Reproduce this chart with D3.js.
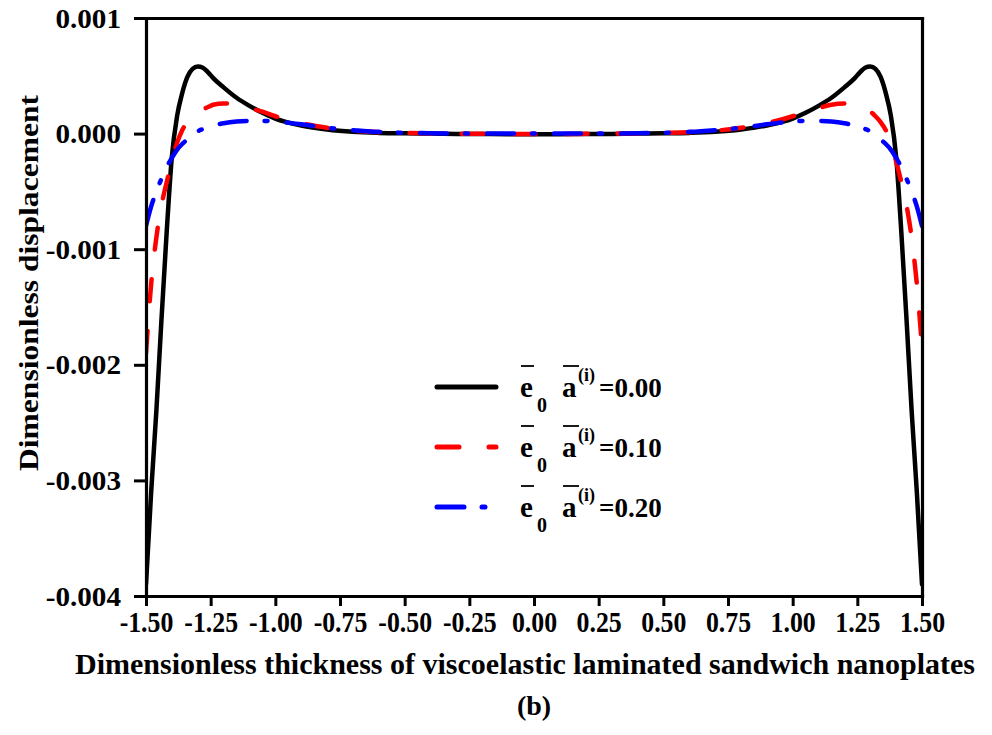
<!DOCTYPE html>
<html>
<head>
<meta charset="utf-8">
<script src="https://cdn.jsdelivr.net/npm/d3@7"></script>
<style>
  html, body { margin: 0; padding: 0; background: #fff; }
  svg { display: block; }
  text { font-family: "Liberation Serif", "Times New Roman", serif; font-weight: bold; fill: #000; }
</style>
</head>
<body>
<svg id="chart" width="992" height="735"></svg>
<script>
// ---- data ----
const thickness = [-1.50,-1.48,-1.46,-1.44,-1.42,-1.40,-1.38,-1.36,-1.34,-1.32,-1.30,-1.28,-1.26,-1.24,-1.20,-1.15,-1.10,-1.05,-1.00,-0.90,-0.80,-0.70,-0.60,-0.50,-0.40,-0.30,-0.20,-0.10,0.00,
                   0.10,0.20,0.30,0.40,0.50,0.60,0.70,0.80,0.90,1.00,1.05,1.10,1.15,1.20,1.24,1.26,1.28,1.30,1.32,1.34,1.36,1.38,1.40,1.42,1.44,1.46,1.48,1.50];

const disp000 = [-0.00390,-0.00310,-0.00240,-0.00160,-0.00085,-0.00020,0.00015,0.00035,0.00049,0.00056,0.00058,0.00057,0.00053,0.00048,0.00040,0.00031,0.00024,0.00018,0.00013,0.00007,0.000035,0.000015,0.000006,0.000002,0.0,-0.000003,-0.000004,-0.000005,-0.000005,
                 -0.000005,-0.000004,-0.000003,0.0,0.000002,0.000006,0.000015,0.000035,0.00007,0.00013,0.00018,0.00024,0.00031,0.00040,0.00048,0.00053,0.00057,0.00058,0.00056,0.00049,0.00035,0.00015,-0.00020,-0.00085,-0.00160,-0.00240,-0.00310,-0.00390];

const disp010 = [-0.00190,-0.00130,-0.00090,-0.00062,-0.00042,-0.00024,-0.00008,0.00003,0.00010,0.00015,0.00019,0.00021,0.00023,0.00025,0.00026,0.00025,0.00022,0.00019,0.00015,0.00009,0.00005,0.000025,0.000012,0.000005,0.000002,0.0,-0.000002,-0.000003,-0.000003,
                 -0.000003,-0.000002,0.0,0.000002,0.000005,0.000012,0.000025,0.00005,0.00009,0.00015,0.00019,0.00022,0.00025,0.00026,0.00025,0.00023,0.00021,0.00019,0.00015,0.00010,0.00003,-0.00008,-0.00024,-0.00042,-0.00062,-0.00090,-0.00130,-0.00185];

const disp020 = [-0.00080,-0.00063,-0.00050,-0.00039,-0.00029,-0.00021,-0.00014,-0.00009,-0.00005,-0.00001,0.00002,0.00004,0.00006,0.00007,0.00009,0.000105,0.00011,0.00011,0.000105,0.00008,0.00005,0.00003,0.000015,0.000007,0.000003,0.000001,0.0,0.0,0.0,
                 0.0,0.0,0.000001,0.000003,0.000007,0.000015,0.00003,0.00005,0.00008,0.000105,0.00011,0.00011,0.000105,0.00009,0.00007,0.00006,0.00004,0.00002,-0.00001,-0.00005,-0.00009,-0.00014,-0.00021,-0.00029,-0.00039,-0.00050,-0.00063,-0.00080];

const seriesNames = ["0.00", "0.10", "0.20"];
const seriesColors = ["#000000", "#ff0000", "#0000ff"];
const xTicks = [-1.50,-1.25,-1.00,-0.75,-0.50,-0.25,0.00,0.25,0.50,0.75,1.00,1.25,1.50];
const yTicks = [-0.004,-0.003,-0.002,-0.001,0.000,0.001];
const xTitle = "Dimensionless thickness of viscoelastic laminated sandwich nanoplates";
const yTitle = "Dimensionless displacement";
const caption = "(b)";

// ---- layout ----
const svg = d3.select("#chart");
const L = 146, R = 922, T = 18, B = 596;
const x = d3.scaleLinear().domain([-1.5, 1.5]).range([L, R]);
const y = d3.scaleLinear().domain([-0.004, 0.001]).range([B, T]);

const allSeries = [disp000, disp010, disp020].map((vals, i) => ({
  name: seriesNames[i], color: seriesColors[i],
  dash: [null, "22 30", "27 18 3 19"][i],
  pts: thickness.map((t, j) => ({ x: t, v: vals[j] }))
}));

const line = d3.line().x(d => x(d.x)).y(d => y(d.v)).curve(d3.curveMonotoneX);

svg.append("defs").append("clipPath").attr("id", "clip")
  .append("rect").attr("x", L).attr("y", T).attr("width", R - L).attr("height", B - T);

const gLines = svg.append("g").attr("clip-path", "url(#clip)");
allSeries.forEach(s => {
  gLines.append("path").datum(s.pts)
    .attr("fill", "none").attr("stroke", s.color).attr("stroke-width", 4.5)
    .attr("stroke-linecap", "round").attr("stroke-linejoin", "round")
    .attr("stroke-dasharray", s.dash)
    .attr("d", line);
});

// ---- axes ----
const xAxis = d3.axisBottom(x).tickValues(xTicks).tickSize(10).tickSizeOuter(0).tickFormat(d => d.toFixed(2));
const yAxis = d3.axisLeft(y).tickValues(yTicks).tickSize(12).tickSizeOuter(0).tickFormat(d => d.toFixed(3));

const gx = svg.append("g").attr("transform", `translate(0,${B})`).call(xAxis);
const gy = svg.append("g").attr("transform", `translate(${L},0)`).call(yAxis);
svg.append("g").attr("transform", `translate(0,${T})`).call(d3.axisTop(x).tickValues([]).tickSizeOuter(0));
svg.append("g").attr("transform", `translate(${R},0)`).call(d3.axisRight(y).tickValues([]).tickSizeOuter(0));

svg.selectAll(".domain").attr("stroke", "#000").attr("stroke-width", 3.2).attr("stroke-linecap", "square");
svg.selectAll(".tick line").attr("stroke", "#000").attr("stroke-width", 3);

gx.selectAll(".tick text")
  .attr("y", 36).attr("dy", 0)
  .style("font-size", "30px")
  .each(function () {
    const w = this.getComputedTextLength();
    d3.select(this).attr("textLength", w * 0.86).attr("lengthAdjust", "spacingAndGlyphs");
  });
gy.selectAll(".tick text")
  .attr("x", -25).attr("dy", "0.34em")
  .style("font-size", "27px")
  .each(function () {
    const w = this.getComputedTextLength();
    d3.select(this).attr("textLength", w * 1.08).attr("lengthAdjust", "spacingAndGlyphs");
  });
svg.selectAll(".tick text").attr("fill", "#000");

// ---- titles ----
svg.append("text").attr("x", 75).attr("y", 674)
  .style("font-size", "30px")
  .attr("textLength", 900).attr("lengthAdjust", "spacingAndGlyphs")
  .text(xTitle);

svg.append("text").attr("transform", "translate(38,283) rotate(-90)")
  .attr("text-anchor", "middle")
  .style("font-size", "28px")
  .attr("textLength", 376).attr("lengthAdjust", "spacingAndGlyphs")
  .text(yTitle);

svg.append("text").attr("x", 534).attr("y", 715).attr("text-anchor", "middle")
  .style("font-size", "28px").text(caption);

// ---- legend ----
const legendY = [387, 447, 507];
allSeries.forEach((s, i) => {
  const ly = legendY[i];
  svg.append("line").attr("x1", 437).attr("x2", 496).attr("y1", ly).attr("y2", ly)
    .attr("stroke", s.color).attr("stroke-width", 5).attr("stroke-linecap", "round")
    .attr("stroke-dasharray", s.dash);
  const g = svg.append("g").attr("transform", `translate(0,${ly + 10})`);
  g.append("text").attr("x", 520).attr("y", 0).style("font-size", "29px").text("e");
  g.append("text").attr("x", 537).attr("y", 15).style("font-size", "20px").text("0");
  g.append("text").attr("x", 562).attr("y", 0).style("font-size", "29px").text("a");
  g.append("text").attr("x", 578).attr("y", -16).style("font-size", "18px").text("(i)");
  g.append("text").attr("x", 599).attr("y", 0).style("font-size", "27px").text("=" + s.name);
  g.append("line").attr("x1", 521).attr("x2", 534).attr("y1", -31).attr("y2", -31)
    .attr("stroke", "#000").attr("stroke-width", 1.8);
  g.append("line").attr("x1", 563).attr("x2", 579).attr("y1", -31).attr("y2", -31)
    .attr("stroke", "#000").attr("stroke-width", 1.8);
});
</script>
</body>
</html>
